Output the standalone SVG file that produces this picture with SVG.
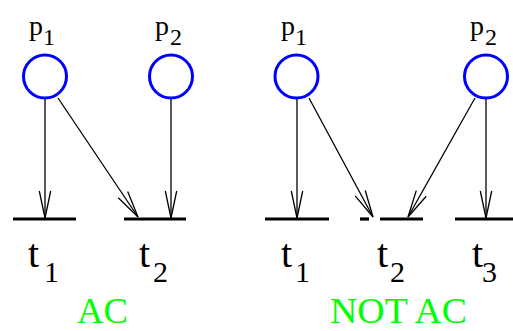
<svg xmlns="http://www.w3.org/2000/svg" width="513" height="331" viewBox="0 0 513 331">
<style>
.place{fill:none;stroke:#0000ff;stroke-width:3}
.bar{stroke:#000;stroke-width:3.2;fill:none}
.arc{stroke:#000;stroke-width:1.3;fill:none}
.lbl{fill:#000}
.ac{fill:#00ff00}
</style>
<defs>
<marker id="ah" markerUnits="userSpaceOnUse" markerWidth="40" markerHeight="20" viewBox="-30 -10 40 20" refX="0" refY="0" orient="auto" overflow="visible">
<path d="M-27,-5.7 L0,0 L-27,5.7" fill="none" stroke="#000" stroke-width="1.3"/>
</marker>
</defs>
<rect width="513" height="331" fill="#fff"/>
<g id="connectors">
<line class="arc" x1="45" y1="99" x2="45" y2="218" marker-end="url(#ah)"/>
<line class="arc" x1="58" y1="98" x2="138" y2="217" marker-end="url(#ah)"/>
<line class="arc" x1="171" y1="99" x2="171" y2="218" marker-end="url(#ah)"/>
<line class="arc" x1="297" y1="99" x2="297" y2="218" marker-end="url(#ah)"/>
<line class="arc" x1="309" y1="98" x2="373" y2="217" marker-end="url(#ah)"/>
<line class="arc" x1="475" y1="98" x2="408" y2="217" marker-end="url(#ah)"/>
<line class="arc" x1="486" y1="99" x2="486" y2="218" marker-end="url(#ah)"/>
</g>
<g id="left-p1">
<circle class="place" cx="45" cy="76.5" r="21.5"/>
<text class="lbl" font-family="Liberation Serif, serif" font-size="28" x="29" y="35">p</text><text class="lbl" font-family="Liberation Serif, serif" font-size="24" x="43" y="45">1</text>
</g>
<g id="left-p2">
<circle class="place" cx="171" cy="76.5" r="21.5"/>
<text class="lbl" font-family="Liberation Serif, serif" font-size="28" x="155" y="35">p</text><text class="lbl" font-family="Liberation Serif, serif" font-size="24" x="170" y="45">2</text>
</g>
<g id="left-t1">
<line class="bar" x1="13" y1="219" x2="76" y2="219"/>
<text class="lbl" font-family="Liberation Serif, serif" font-size="40" x="28" y="267">t</text><text class="lbl" font-family="Liberation Serif, serif" font-size="30" x="44" y="282">1</text>
</g>
<g id="left-t2">
<line class="bar" x1="124" y1="219" x2="186" y2="219"/>
<text class="lbl" font-family="Liberation Serif, serif" font-size="40" x="139" y="267">t</text><text class="lbl" font-family="Liberation Serif, serif" font-size="30" x="153" y="282">2</text>
</g>
<g id="right-p1">
<circle class="place" cx="296.5" cy="76.5" r="21.5"/>
<text class="lbl" font-family="Liberation Serif, serif" font-size="28" x="281" y="35">p</text><text class="lbl" font-family="Liberation Serif, serif" font-size="24" x="295" y="45">1</text>
</g>
<g id="right-p2">
<circle class="place" cx="486" cy="76.5" r="21.5"/>
<text class="lbl" font-family="Liberation Serif, serif" font-size="28" x="470" y="35">p</text><text class="lbl" font-family="Liberation Serif, serif" font-size="24" x="485" y="45">2</text>
</g>
<g id="right-t1">
<line class="bar" x1="265" y1="219" x2="329" y2="219"/>
<text class="lbl" font-family="Liberation Serif, serif" font-size="40" x="281" y="267">t</text><text class="lbl" font-family="Liberation Serif, serif" font-size="30" x="295" y="282">1</text>
</g>
<g id="right-t2">
<line class="bar" x1="360" y1="219" x2="369" y2="219"/>
<line class="bar" x1="380" y1="219" x2="423" y2="219"/>
<text class="lbl" font-family="Liberation Serif, serif" font-size="40" x="377" y="267">t</text><text class="lbl" font-family="Liberation Serif, serif" font-size="30" x="390" y="282">2</text>
</g>
<g id="right-t3">
<line class="bar" x1="455" y1="219" x2="513" y2="219"/>
<text class="lbl" font-family="Liberation Serif, serif" font-size="40" x="472" y="267">t</text><text class="lbl" font-family="Liberation Serif, serif" font-size="30" x="482" y="282">3</text>
</g>
<text class="ac" font-family="Liberation Serif, serif" font-size="36" x="77" y="323" textLength="51" lengthAdjust="spacingAndGlyphs">AC</text>
<text class="ac" font-family="Liberation Serif, serif" font-size="36" x="330" y="323" textLength="137" lengthAdjust="spacingAndGlyphs">NOT AC</text>
</svg>
